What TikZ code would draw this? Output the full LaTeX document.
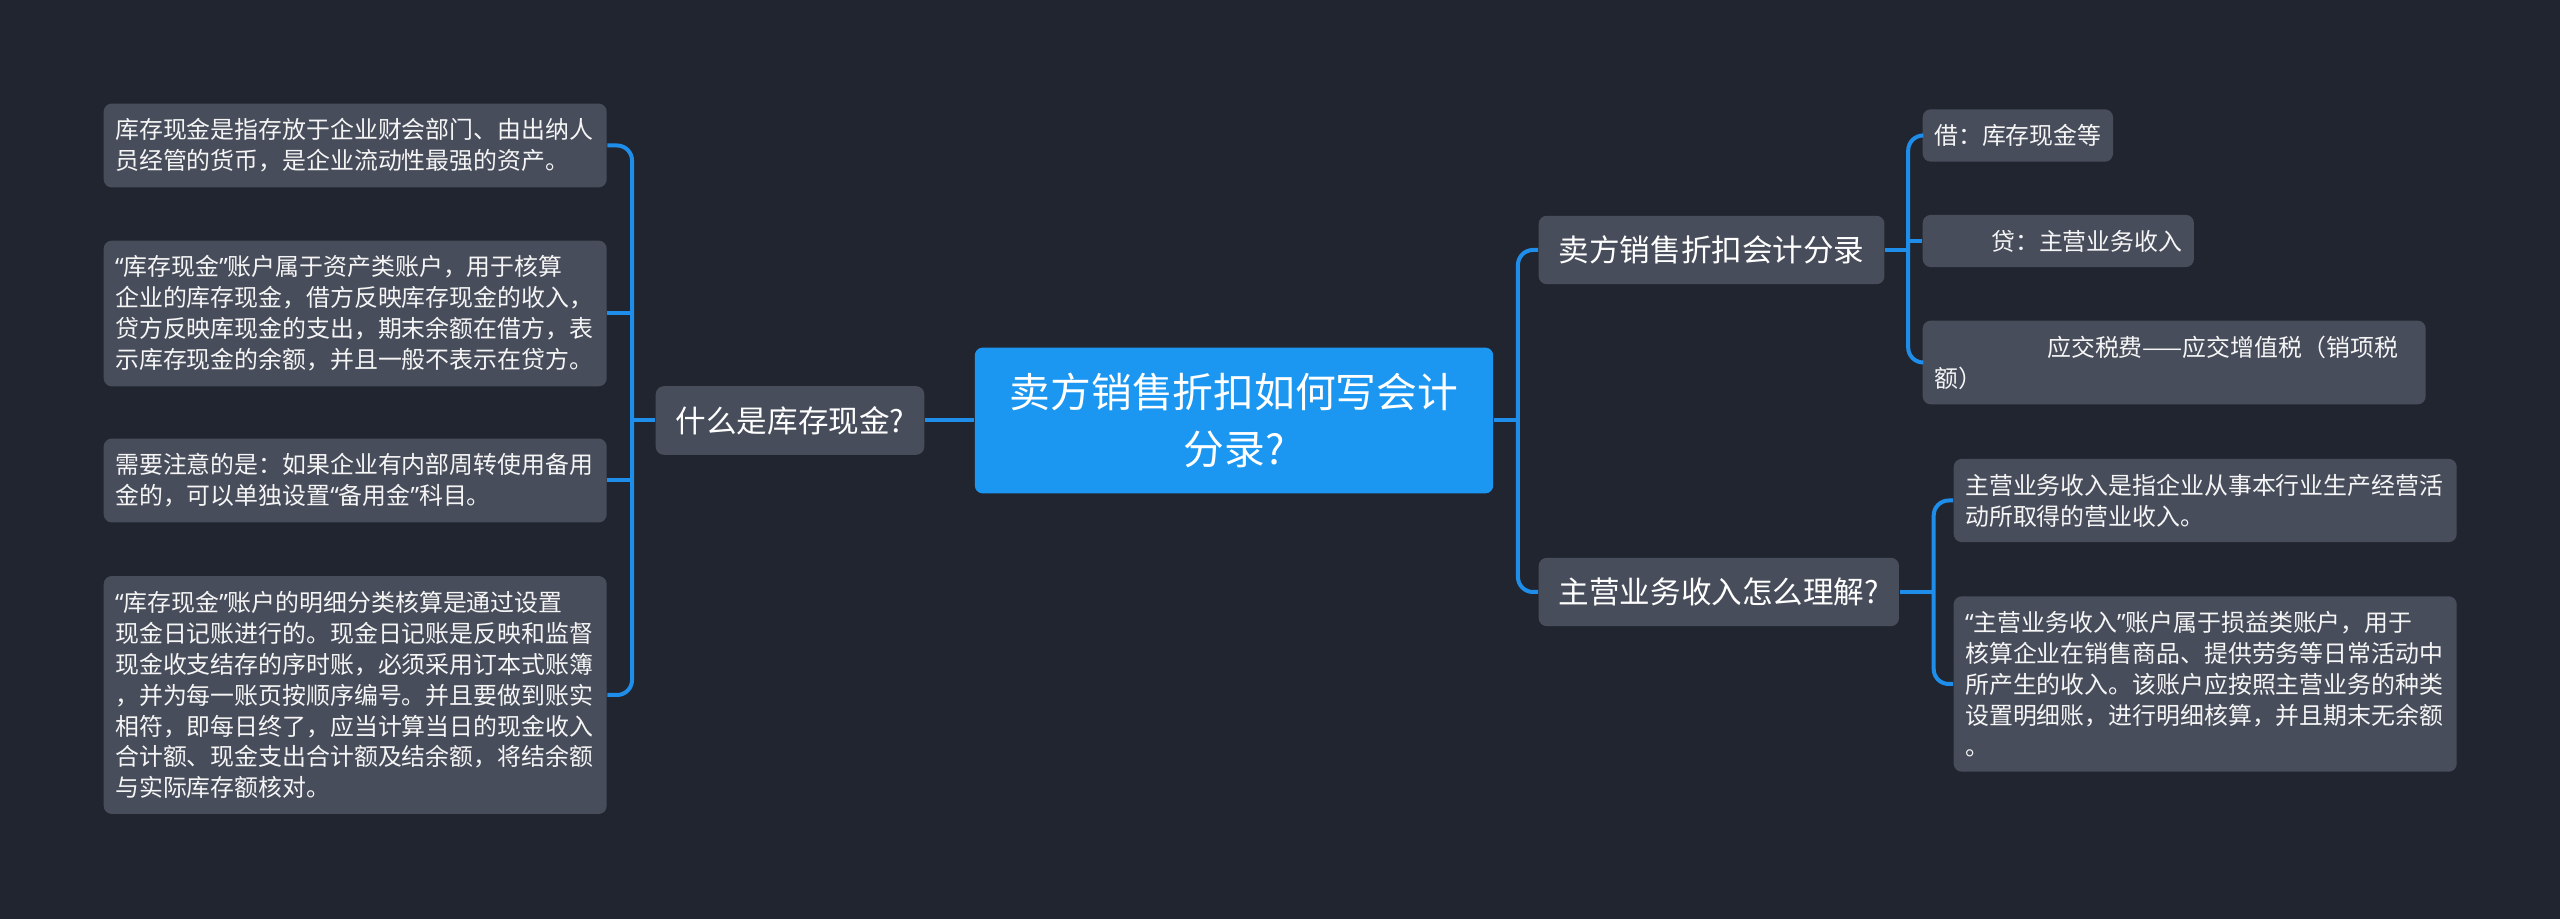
\documentclass[tikz,border=0pt]{standalone}
\usepackage{fontspec}
\setmainfont{Noto Sans CJK SC}
\newfontfamily\quotefont{Noto Sans}
\usepackage{xcolor}
\usepackage{tikz}
\usetikzlibrary{positioning}

\definecolor{bgc}{HTML}{21252F}
\definecolor{boxc}{HTML}{484D5B}
\definecolor{rootc}{HTML}{1C97F1}
\definecolor{linec}{HTML}{1E8EEA}

% narrow quote marks
\newcommand\qo{{\quotefont “}}
\newcommand\qc{{\quotefont ”}}

\tikzset{
  rootbox/.style={fill=rootc, rounded corners=0.08cm, text=white, align=center,
    font=\fontsize{11.6}{16.2}\selectfont, inner xsep=0.35cm, inner ysep=0.255cm},
  topicbox/.style={fill=boxc, rounded corners=0.08cm, text=white,
    font=\fontsize{8.7}{10}\selectfont, inner xsep=0.2cm, inner ysep=0.2cm},
  leafbox/.style={fill=boxc, rounded corners=0.08cm, text=white!92!gray, align=left,
    font=\fontsize{6.8}{8.8}\selectfont, inner xsep=0.115cm, inner ysep=0.15cm, anchor=west},
  notebox/.style={leafbox, text width=4.8cm},
  link/.style={draw=linec, line width=0.04cm},
  elbow/.style={link, rounded corners=0.15cm}
}

\begin{document}
\begin{tikzpicture}
\path[fill=bgc, use as bounding box] (0,0) rectangle (25.6,-9.19);

\node[rootbox](root) at (12.34,-4.205) {卖方销售折扣如何写会计\\分录?};

% left
\node[topicbox](cash) at (7.90,-4.205) {什么是库存现金?};

\node[notebox](c1) at (1.03,-1.455) {库存现金是指存放于企业财会部门、由出纳人\\员经管的货币，是企业流动性最强的资产。};
\node[notebox](c2) at (1.03,-3.135) {\qo 库存现金\qc 账户属于资产类账户，用于核算\\企业的库存现金，借方反映库存现金的收入，\\贷方反映库现金的支出，期末余额在借方，表\\示库存现金的余额，并且一般不表示在贷方。};
\node[notebox](c3) at (1.03,-4.805) {需要注意的是：如果企业有内部周转使用备用\\金的，可以单独设置\qo 备用金\qc 科目。};
\node[notebox](c4) at (1.03,-6.95) {\qo 库存现金\qc 账户的明细分类核算是通过设置\\现金日记账进行的。现金日记账是反映和监督\\现金收支结存的序时账，必须采用订本式账簿\\，并为每一账页按顺序编号。并且要做到账实\\相符，即每日终了，应当计算当日的现金收入\\合计额、现金支出合计额及结余额，将结余额\\与实际库存额核对。};

% right
\node[topicbox, anchor=west](entry) at (15.38,-2.50) {卖方销售折扣会计分录};
\node[topicbox, anchor=west](income) at (15.38,-5.92) {主营业务收入怎么理解?};

\node[leafbox](e1) at (19.22,-1.355) {借：库存现金等};
\node[leafbox](e2) at (19.22,-2.41) {\hspace*{0.57cm}贷：主营业务收入};
\node[notebox](e3) at (19.22,-3.625) {\hspace*{1.13cm}应交税费——应交增值税（销项税\\额）};

\node[notebox](i1) at (19.53,-5.005) {主营业务收入是指企业从事本行业生产经营活\\动所取得的营业收入。};
\node[notebox](i2) at (19.53,-6.84) {\qo 主营业务收入\qc 账户属于损益类账户，用于\\核算企业在销售商品、提供劳务等日常活动中\\所产生的收入。该账户应按照主营业务的种类\\设置明细账，进行明细核算，并且期末无余额\\。};

% connectors
\coordinate (jl) at ([xshift=-0.23cm]cash.west);
\draw[link] (root.west) -- (cash.east);
\draw[link] (cash.west) -- (jl);
\draw[elbow] (c1.east) -| (jl) |- (c4.east);
\foreach \n in {c2,c3}
  \draw[link] (jl |- \n.east) -- (\n.east);

\coordinate (jr) at ([xshift=0.24cm]root.east);
\draw[link] (root.east) -- (jr);
\draw[elbow] (entry.west) -| (jr) |- (income.west);

\coordinate (ja) at ([xshift=0.23cm]entry.east);
\draw[link] (entry.east) -- (ja);
\draw[elbow] (e1.west) -| (ja) |- (e3.west);
\draw[link] (ja |- e2.west) -- (e2.west);

\coordinate (jb) at ([xshift=0.34cm]income.east);
\draw[link] (income.east) -- (jb);
\draw[elbow] (i1.west) -| (jb) |- (i2.west);

\end{tikzpicture}
\end{document}
